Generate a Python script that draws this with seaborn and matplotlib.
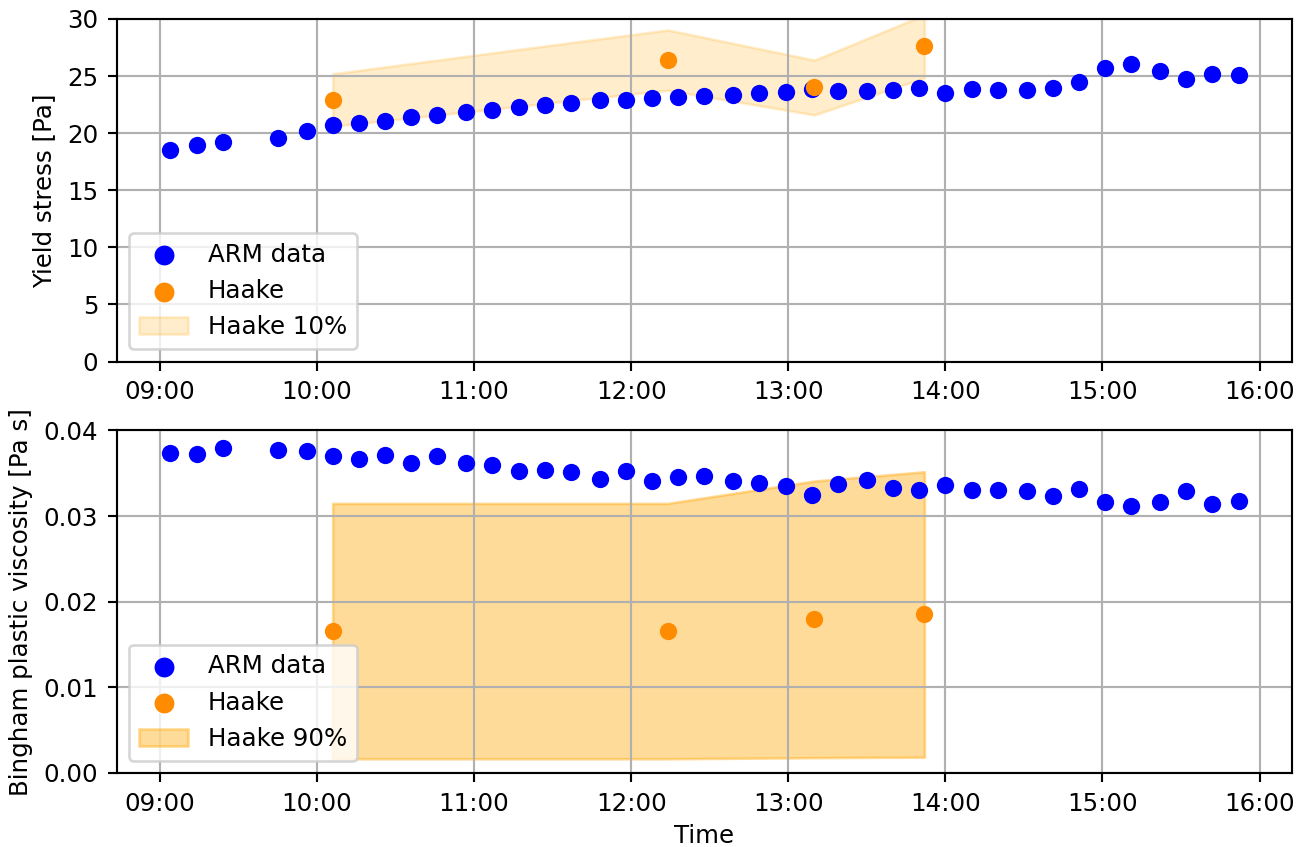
import numpy as np
import pandas as pd
import matplotlib
matplotlib.use("Agg")
import matplotlib.pyplot as plt
import matplotlib.dates as mdates
import seaborn as sns

# ARM rheometer readings
arm_times = ["09:04", "09:14", "09:24", "09:45", "09:56", "10:06", "10:16", "10:26",
             "10:36", "10:46", "10:57", "11:07", "11:17", "11:27", "11:37", "11:48",
             "11:58", "12:08", "12:18", "12:28", "12:39", "12:49", "12:59", "13:09",
             "13:19", "13:30", "13:40", "13:50", "14:00", "14:10", "14:20", "14:31",
             "14:41", "14:51", "15:01", "15:11", "15:22", "15:32", "15:42", "15:52"]
arm_yield = [18.5, 19.0, 19.24, 19.56, 20.2, 20.73, 20.88, 21.1, 21.4, 21.58,
             21.84, 22.05, 22.3, 22.46, 22.63, 22.87, 22.87, 23.07, 23.16, 23.25,
             23.36, 23.48, 23.63, 23.83, 23.65, 23.65, 23.8, 23.98, 23.54, 23.86,
             23.74, 23.74, 23.92, 24.5, 25.67, 26.1, 25.44, 24.7, 25.15, 25.06]
arm_visc = [0.03735, 0.03724, 0.03794, 0.03767, 0.03759, 0.03700, 0.03661, 0.03708,
            0.03623, 0.03696, 0.03615, 0.03595, 0.03525, 0.03537, 0.03518, 0.03428,
            0.03529, 0.03409, 0.03459, 0.03467, 0.03409, 0.03385, 0.03354, 0.03241,
            0.03374, 0.03416, 0.03323, 0.03300, 0.03362, 0.03300, 0.03304, 0.03292,
            0.03233, 0.03315, 0.03160, 0.03117, 0.03163, 0.03288, 0.03144, 0.03171]

# Haake reference measurements and their bands
haake_times = ["10:06", "12:14", "13:10", "13:52"]
haake_yield = [22.9, 26.4, 24.0, 27.6]
haake_yield_lo = [20.6, 23.76, 21.6, 24.84]
haake_yield_hi = [25.2, 29.04, 26.4, 30.36]
haake_visc = [0.01657, 0.01657, 0.01794, 0.01851]
haake_visc_lo = [0.00166, 0.00166, 0.00179, 0.00185]
haake_visc_hi = [0.03148, 0.03148, 0.03409, 0.03517]

day = "2021-06-01 "
t_arm = pd.to_datetime([day + t for t in arm_times])
t_haake = pd.to_datetime([day + t for t in haake_times])

plt.rcParams['font.size'] = 9.2
plt.rcParams['font.family'] = ['DejaVu Sans']

fig, (ax1, ax2) = plt.subplots(2, 1, figsize=(1308 / 192, 847 / 192), dpi=192)
fig.subplots_adjust(left=0.0894, right=0.9878, top=0.9776, bottom=0.0874, hspace=0.201)

panels = [
    (ax1, arm_yield, haake_yield, haake_yield_lo, haake_yield_hi, 0.2, "Haake 10%",
     "Yield stress [Pa]", (0, 30)),
    (ax2, arm_visc, haake_visc, haake_visc_lo, haake_visc_hi, 0.4, "Haake 90%",
     "Bingham plastic viscosity [Pa s]", (0, 0.04)),
]

for ax, arm, haake, lo, hi, alpha, band_label, ylabel, ylim in panels:
    sns.scatterplot(x=t_arm, y=arm, color="blue", s=42, linewidth=0,
                    label="ARM data", ax=ax, zorder=2)
    sns.scatterplot(x=t_haake, y=haake, color="darkorange", s=42, linewidth=0,
                    label="Haake", ax=ax, zorder=3)
    ax.fill_between(t_haake, lo, hi, color="orange", alpha=alpha, label=band_label)
    ax.set_ylim(*ylim)
    ax.set_ylabel(ylabel)
    ax.set_xlabel("")
    ax.grid(True)
    ax.xaxis.set_major_locator(mdates.HourLocator())
    ax.xaxis.set_major_formatter(mdates.DateFormatter("%H:%M"))
    ax.legend(loc="lower left", markerscale=1.15)

ax2.set_xlabel("Time", labelpad=3)

fig.savefig("out.png", dpi=192)
